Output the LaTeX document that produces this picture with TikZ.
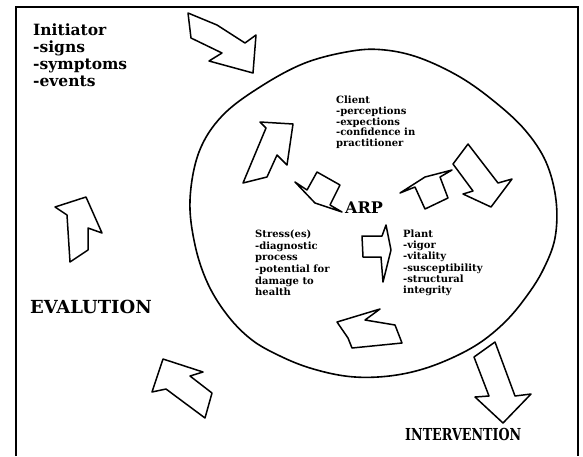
\documentclass[tikz,border=0pt]{standalone}
\usepackage{fontspec}
\usepackage{graphicx}
\setmainfont{DejaVu Serif}
\tikzset{
  frameline/.style={line width=1.8pt},
  ring/.style={line width=1.6pt},
  blockarrow/.style={line width=1.5pt, line join=round},
  txt/.style={inner sep=0pt, align=left},
  bigtxt/.style={inner sep=0pt, anchor=base west, font=\fontsize{18}{20}\selectfont\bfseries},
}
\begin{document}
\begin{tikzpicture}[x=1pt,y=-1pt]
\useasboundingbox (0,0) rectangle (583,456);
% frame
\draw[frameline] (16,456) -- (16,7) -- (578,7) -- (578,456);
% ellipse
\draw[ring] plot[smooth cycle, tension=0.6] coordinates {
 (190,200) (199,152) (222,116) (260,87) (305,63) (352,51) (385,50)
 (420,58) (460,77) (495,102) (525,130) (546,162) (556,200) (555,238)
 (543,270) (526,297) (505,322) (478,344) (445,361) (412,372) (378,377)
 (345,376) (310,368) (280,356) (252,340) (228,316) (208,284) (195,245)};
% block arrows
\draw[blockarrow] (188,13) -- (217,25) -- (245,43) -- (256,35) -- (253,73) -- (209,61) -- (222,53) -- (191,38) -- cycle;
\draw[blockarrow] (260,122) -- (293,124) -- (287,165) -- (277,155) -- (267,177) -- (243,183) -- (266,128) -- cycle;
\draw[blockarrow] (295,182) -- (307,190) -- (317,172) -- (340,185) -- (330,205) -- (342,212) -- (315,203) -- cycle;
\draw[blockarrow] (400,193) -- (425,177) -- (452,170) -- (440,177) -- (448,198) -- (425,209) -- (415,187) -- cycle;
\draw[blockarrow] (453,164) -- (468,144) -- (498,183) -- (512,179) -- (491,207) -- (463,194) -- (473,191) -- cycle;
\draw[blockarrow] (362,236) -- (382,236) -- (386,225) -- (391,250) -- (383,282) -- (381,257) -- (363,257) -- cycle;
\draw[blockarrow] (337,322) -- (380,309) -- (365,320) -- (395,325) -- (402,343) -- (352,348) -- (348,338) -- cycle;
\draw[blockarrow] (163,359) -- (203,372) -- (190,376) -- (212,393) -- (205,418) -- (166,389) -- (152,392) -- cycle;
\draw[blockarrow] (86,197) -- (102,233) -- (88,228) -- (88,250) -- (70,262) -- (67,215) -- (55,207) -- cycle;
\draw[blockarrow] (474,357) -- (495,342) -- (515,396) -- (531,394) -- (503,423) -- (475,397) -- (489,396) -- cycle;
% texts
\node[txt, anchor=north west, font=\fontsize{15.5}{17}\selectfont\bfseries] (init) at (33,23.5)
  {Initiator\\-signs\\-symptoms\\-events};
\node[txt, anchor=north west, font=\fontsize{10}{10.6}\selectfont\bfseries] (client) at (336,96)
  {Client\\-perceptions\\-expections\\-confidence in\\practitioner};
\node[txt, anchor=north west, font=\fontsize{10}{11.7}\selectfont\bfseries] (stress) at (255,229.5)
  {Stress(es)\\-diagnostic\\process\\-potential for\\damage to\\health};
\node[txt, anchor=north west, font=\fontsize{10}{11.3}\selectfont\bfseries] (plant) at (403,229.3)
  {Plant\\-vigor\\-vitality\\-susceptibility\\-structural\\integrity};
\node[bigtxt, font=\fontsize{16}{18}\selectfont\bfseries] (arp) at (345,213) {ARP};
\node[bigtxt] (eval) at (30,313) {EVALUTION};
\node[bigtxt, font=\fontsize{16.5}{18}\selectfont\bfseries] (interv) at (405,440) {\scalebox{0.77}[1]{INTERVENTION}};
\end{tikzpicture}
\end{document}
